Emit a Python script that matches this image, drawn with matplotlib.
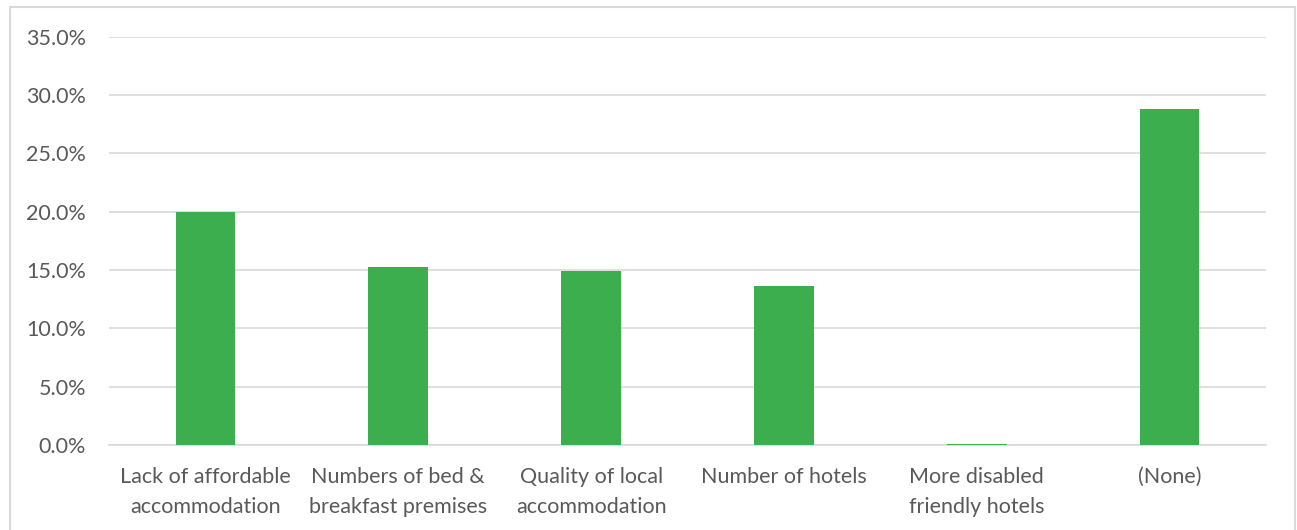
import matplotlib
matplotlib.use("Agg")
import matplotlib.pyplot as plt
from matplotlib.patches import Rectangle
from matplotlib.ticker import FuncFormatter, MultipleLocator

categories = [
    "Lack of affordable\naccommodation",
    "Numbers of bed &\nbreakfast premises",
    "Quality of local\naccommodation",
    "Number of hotels",
    "More disabled\nfriendly hotels",
    "(None)",
]
shares = [20.0, 15.3, 14.9, 13.6, 0.1, 28.8]

BAR_COLOR = "#3DAE4E"
TEXT_COLOR = "#595959"
GRID_COLOR = "#D9D9D9"

plt.rcParams["font.family"] = ["Lato", "DejaVu Sans"]

fig = plt.figure(figsize=(12.97, 5.30), dpi=100)
fig.patch.set_facecolor("white")

# light frame around the chart area
fig.patches.append(Rectangle((10 / 1297, -0.02), (1295 - 10) / 1297, 1.02 - 7 / 530,
                             transform=fig.transFigure, fill=False,
                             edgecolor=GRID_COLOR, linewidth=1.5))

ax = fig.add_axes([109 / 1297, 1 - 445 / 530, (1266 - 109) / 1297, (445 - 36.7) / 530])
x = range(len(categories))
ax.bar(x, shares, width=0.31, color=BAR_COLOR, zorder=3)

ax.set_xlim(-0.5, len(categories) - 0.5)
ax.set_ylim(0, 35)
ax.yaxis.set_major_locator(MultipleLocator(5))
ax.yaxis.set_major_formatter(FuncFormatter(lambda v, _: f"{v:.1f}%"))
ax.grid(axis="y", color=GRID_COLOR, linewidth=1.2, zorder=0)

for s in ["top", "right", "left"]:
    ax.spines[s].set_visible(False)
ax.spines["bottom"].set_color(GRID_COLOR)
ax.spines["bottom"].set_linewidth(1.2)

ax.set_xticks(list(x))
ax.set_xticklabels(categories, fontsize=15.5, color=TEXT_COLOR, linespacing=1.65)
ax.tick_params(axis="x", length=0, pad=15.5)
ax.tick_params(axis="y", length=0, pad=16.5, labelsize=15.5, labelcolor=TEXT_COLOR)

fig.savefig("out.png", dpi=100, facecolor="white")
